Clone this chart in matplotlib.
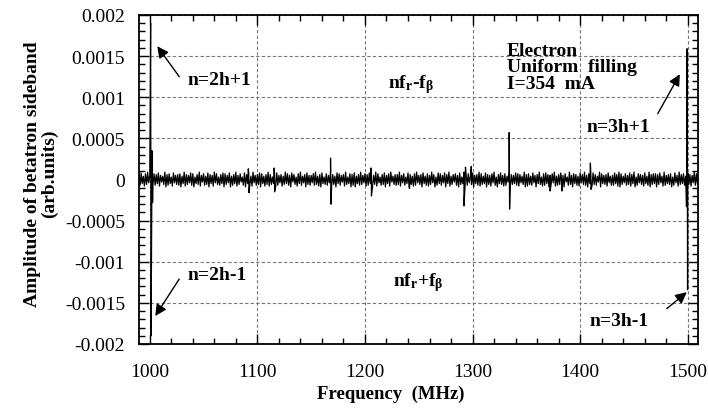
import numpy as np
import matplotlib
matplotlib.use("Agg")
import matplotlib.pyplot as plt
from matplotlib.ticker import MultipleLocator

plt.rcParams['font.family'] = ['Liberation Serif', 'DejaVu Serif']
plt.rcParams['mathtext.fontset'] = 'custom'
plt.rcParams['mathtext.rm'] = 'Liberation Serif:bold'
plt.rcParams['mathtext.it'] = 'Liberation Serif:bold'
plt.rcParams['mathtext.bf'] = 'Liberation Serif:bold'

# ---------------- data ----------------
# background noise (units of 1e-5 arb. units), sampled every 2 MHz on two interleaved grids
noise_a_start = 990.0   # MHz, grid A: 990, 992, ...
noise_b_start = 991.0   # MHz, grid B: 991, 993, ...
noise_step = 2.0
noise_a_e5 = [
    6, 8, 4, 7, 9, 5, 3, 7, 6, 8, 5, 4, 9, 6, 7, 3, 8, 5, 6, 7,
    4, 9, 6, 5, 8, 7, 3, 6, 9, 5, 7, 4, 8, 6, 5, 9, 7, 3, 6, 8,
    7, 5, 8, 4, 6, 9, 5, 7, 3, 8, 6, 7, 4, 9, 5, 6, 8, 7, 4, 6,
    9, 6, 3, 7, 8, 5, 6, 4, 9, 7, 5, 8, 6, 3, 7, 9, 4, 6, 8, 5,
    5, 7, 9, 4, 6, 8, 3, 7, 5, 9, 6, 4, 8, 7, 5, 6, 9, 3, 7, 6,
    8, 4, 6, 9, 5, 7, 6, 8, 4, 5, 9, 7, 3, 6, 8, 5, 7, 9, 4, 6,
    6, 9, 5, 7, 3, 8, 6, 4, 7, 9, 5, 6, 8, 4, 7, 5, 9, 6, 3, 8,
    7, 5, 8, 6, 9, 4, 6, 7, 5, 8, 3, 9, 6, 7, 4, 8, 5, 6, 9, 7,
    4, 8, 6, 5, 7, 9, 3, 6, 8, 5, 7, 4, 9, 6, 5, 8, 7, 6, 4, 9,
    6, 7, 4, 8, 5, 6, 9, 3, 7, 8, 6, 5, 7, 9, 4, 6, 8, 5, 7, 3,
    9, 5, 7, 6, 4, 8, 6, 9, 5, 7, 3, 8, 6, 4, 9, 7, 5, 6, 8, 4,
    5, 8, 6, 9, 7, 4, 7, 5, 8, 6, 9, 3, 7, 6, 5, 8, 4, 9, 6, 7,
    7, 6, 8, 4, 9, 5, 6, 7, 3, 8, 5, 9, 6, 7, 4, 8, 6, 5, 9, 7, 6,
]
noise_b_e5 = [
    -7, -5, -8, -6, -4, -9, -6, -7, -5, -8, -3, -6, -9, -7, -5, -8, -4, -6, -7, -9,
    -5, -8, -6, -4, -7, -9, -5, -6, -8, -3, -7, -6, -9, -5, -8, -4, -6, -7, -5, -9,
    -6, -4, -9, -7, -5, -8, -6, -3, -7, -9, -5, -6, -8, -4, -7, -6, -9, -5, -8, -6,
    -8, -6, -5, -9, -7, -4, -8, -6, -5, -7, -9, -3, -6, -8, -5, -7, -4, -9, -6, -7,
    -4, -7, -6, -8, -9, -5, -6, -7, -4, -8, -6, -9, -5, -7, -3, -8, -6, -5, -9, -7,
    -9, -5, -7, -6, -4, -8, -7, -5, -9, -6, -8, -4, -7, -6, -9, -5, -8, -3, -6, -7,
    -6, -8, -4, -7, -5, -9, -6, -8, -7, -4, -6, -9, -5, -7, -8, -6, -4, -9, -7, -5,
    -7, -4, -9, -5, -8, -6, -3, -7, -9, -6, -5, -8, -7, -4, -6, -9, -5, -7, -8, -6,
    -5, -9, -6, -8, -4, -7, -9, -5, -6, -8, -7, -3, -9, -6, -5, -7, -8, -4, -6, -9,
    -8, -6, -7, -4, -9, -5, -6, -8, -7, -5, -9, -6, -4, -8, -7, -6, -5, -9, -3, -7,
    -6, -9, -5, -7, -8, -4, -6, -7, -9, -5, -8, -6, -7, -3, -9, -5, -6, -8, -4, -7,
    -7, -5, -8, -9, -6, -4, -7, -6, -8, -5, -9, -7, -4, -6, -8, -5, -7, -9, -6, -5,
    -9, -6, -4, -8, -7, -5, -6, -9, -7, -4, -8, -6, -5, -7, -9, -6, -8, -4, -7, -6,
]
# sideband spikes: frequency (MHz) and amplitude (arb. units)
spike_freq = [1000.8, 1001.2, 1002.0, 1002.6, 1091.6, 1092.2, 1115.6, 1116.0,
              1168.0, 1168.4, 1205.6, 1206.0, 1241.4, 1292.0, 1293.4, 1298.8,
              1334.0, 1334.4, 1372.0, 1383.0, 1409.5, 1410.0, 1498.8, 1499.4,
              1499.8]
spike_amp = [0.0019, -0.0019, 0.00035, -0.00028, 0.00013, -0.00016, 0.00014, -0.00015,
             0.00026, -0.00030, 0.00014, -0.00020, -0.00011, -0.00032, 0.00015, 0.00016,
             0.00057, -0.00036, -0.00014, -0.00014, 0.00020, -0.00012, -0.00033, 0.00159,
             -0.00134]

x_ticks = [1000, 1100, 1200, 1300, 1400, 1500]
y_ticks = [-0.002, -0.0015, -0.001, -0.0005, 0, 0.0005, 0.001, 0.0015, 0.002]
y_ticklabels = ['-0.002', '-0.0015', '-0.001', '-0.0005', '0',
                '0.0005', '0.001', '0.0015', '0.002']

# ---------------- build trace ----------------
fa = noise_a_start + noise_step * np.arange(len(noise_a_e5))
fb = noise_b_start + noise_step * np.arange(len(noise_b_e5))
freq = np.concatenate([fa, fb, np.array(spike_freq)])
amp = np.concatenate([np.array(noise_a_e5) * 1e-5, np.array(noise_b_e5) * 1e-5,
                      np.array(spike_amp)])
order = np.argsort(freq, kind='stable')
freq, amp = freq[order], amp[order]

# ---------------- figure ----------------
fig = plt.figure(figsize=(7.08, 4.10), dpi=100)
ax = fig.add_axes([139/708, 1 - 345/410, (698-139)/708, (345-16)/410])

ax.plot(freq, amp, color='black', lw=0.9, zorder=3)

ax.set_xlim(990, 1509.5)
ax.set_ylim(-0.002, 0.002)
ax.set_xticks(x_ticks)
ax.set_xticklabels([str(v) for v in x_ticks])
ax.set_yticks(y_ticks)
ax.set_yticklabels(y_ticklabels)
ax.xaxis.set_minor_locator(MultipleLocator(20))
ax.yaxis.set_minor_locator(MultipleLocator(0.0001))
ax.tick_params(which='both', direction='in', top=True, right=True, width=1.0)
ax.tick_params(which='major', length=7)
ax.tick_params(which='minor', length=4)
ax.tick_params(axis='x', which='major', pad=14, labelsize=14)
ax.tick_params(axis='y', which='major', pad=10, labelsize=14)
ax.grid(True, which='major', color='#777777', linestyle=(0, (3, 2)), lw=0.8, zorder=1)
for s in ax.spines.values():
    s.set_linewidth(1.3)

ax.set_xlabel('Frequency  (MHz)', fontsize=13.5, fontweight='bold')
ax.xaxis.set_label_coords((391-139)/559, -0.125)
fig.text(41/708, 1 - 174/410, 'Amplitude of betatron sideband\n(arb.units)',
         rotation=90, ha='center', va='center', multialignment='center',
         fontsize=14, fontweight='bold', linespacing=0.95)

tkw = dict(fontsize=14, fontweight='bold', va='center', ha='left')
ap = dict(arrowstyle='-|>', color='black', lw=1.0, mutation_scale=17,
          shrinkA=0, shrinkB=0)

ax.text(1034.9, 0.00122, 'n=2h+1', **tkw)
ax.annotate('', xy=(1007.0, 0.00162), xytext=(1027.4, 0.00125), arrowprops=ap)
ax.text(1034.9, -0.00115, 'n=2h-1', **tkw)
ax.annotate('', xy=(1005.1, -0.00166), xytext=(1027.4, -0.00121), arrowprops=ap)
ax.text(1221, 0.00117, r'nf$_\mathrm{r}$-f$_\mathrm{\beta}$', **tkw)
ax.text(1225.6, -0.00124, r'nf$_\mathrm{r}$+f$_\mathrm{\beta}$', **tkw)
ax.text(1331.6, 0.00137, 'Electron\nUniform  filling\nI=354  mA',
        fontsize=14, fontweight='bold', va='center', ha='left', linespacing=0.95)
ax.text(1406.0, 0.00064, 'n=3h+1', **tkw)
ax.annotate('', xy=(1492.6, 0.00128), xytext=(1472.1, 0.0008), arrowprops=ap)
ax.text(1408.8, -0.00172, 'n=3h-1', **tkw)
ax.annotate('', xy=(1499.1, -0.00137), xytext=(1480.5, -0.00157), arrowprops=ap)

fig.savefig('out.png', dpi=100)
